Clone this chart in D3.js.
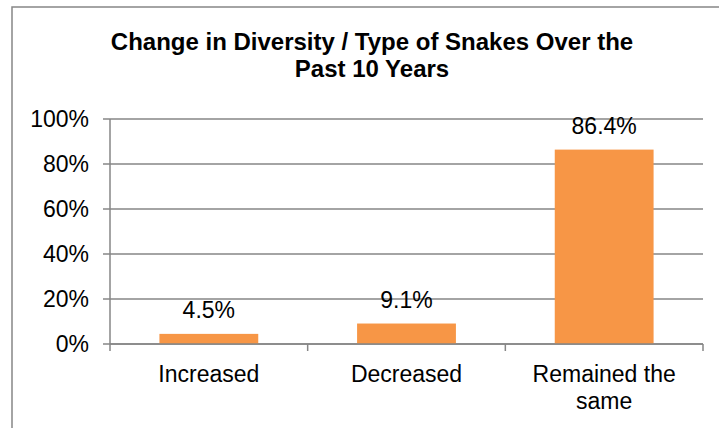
<!DOCTYPE html>
<html><head><meta charset="utf-8">
<script src="https://cdn.jsdelivr.net/npm/d3@7"></script>
<style>body{margin:0;background:#fff;}svg{display:block;font-family:Arial,"Liberation Sans",sans-serif;}</style>
</head><body>
<svg id="c" width="719" height="428"></svg>
<script>
const categories = [["Increased"], ["Decreased"], ["Remained the", "same"]];
const values = [4.5, 9.1, 86.4];
const valueLabels = ["4.5%", "9.1%", "86.4%"];
const yTicks = [0, 20, 40, 60, 80, 100];
const titleLines = ["Change in Diversity / Type of Snakes Over the", "Past 10 Years"];

const svg = d3.select("#c");
svg.append("rect").attr("x", 12).attr("y", 7).attr("width", 740).attr("height", 440)
  .attr("fill", "#fff").attr("stroke", "#878787").attr("stroke-width", 1.5);

const x0 = 110, x1 = 703, yTop = 119, yBot = 344;
const x = d3.scaleBand().domain(d3.range(categories.length)).range([x0, x1]).paddingInner(0.5).paddingOuter(0.25);
const y = d3.scaleLinear().domain([0, 100]).range([yBot, yTop]);
const grey = "#868686";
const fs = 23;

const gy = svg.append("g").attr("transform", `translate(${x0 - 7},0)`);
gy.call(d3.axisLeft(y).tickValues(yTicks).tickFormat(d => d + "%").tickSize(0).tickPadding(14));
gy.select(".domain").remove();
gy.selectAll("text").attr("font-size", fs).attr("fill", "#000").attr("font-family", "Arial, 'Liberation Sans', sans-serif");
svg.append("g").selectAll("line").data(yTicks).join("line")
  .attr("x1", x0 - 7).attr("x2", x1).attr("y1", d => y(d)).attr("y2", d => y(d))
  .attr("stroke", grey).attr("stroke-width", 1.5);
svg.append("line").attr("x1", x0).attr("x2", x0).attr("y1", yTop).attr("y2", yBot)
  .attr("stroke", grey).attr("stroke-width", 1.5);

svg.append("g").selectAll("rect").data(values).join("rect")
  .attr("x", (d, i) => x(i)).attr("width", x.bandwidth())
  .attr("y", d => y(d)).attr("height", d => yBot - y(d)).attr("fill", "#F79646");

const step = (x1 - x0) / categories.length;
svg.append("g").selectAll("line").data(d3.range(categories.length + 1)).join("line")
  .attr("x1", i => x0 + i * step).attr("x2", i => x0 + i * step).attr("y1", yBot).attr("y2", yBot + 7)
  .attr("stroke", grey).attr("stroke-width", 1.5);
svg.append("line").attr("x1", x0).attr("x2", x1).attr("y1", yBot).attr("y2", yBot)
  .attr("stroke", grey).attr("stroke-width", 1.5);

svg.append("g").selectAll("text").data(values).join("text")
  .attr("x", (d, i) => x(i) + x.bandwidth() / 2).attr("y", d => y(d) - 16)
  .attr("text-anchor", "middle").attr("font-size", fs).text((d, i) => valueLabels[i]);

const cl = svg.append("g").selectAll("text").data(categories).join("text")
  .attr("text-anchor", "middle").attr("font-size", fs)
  .attr("transform", (d, i) => `translate(${x(i) + x.bandwidth() / 2},${yBot + 38})`);
cl.selectAll("tspan").data(d => d).join("tspan").attr("x", 0).attr("dy", (d, j) => j ? 27 : 0).text(d => d);

svg.append("text").attr("text-anchor", "middle").attr("font-weight", "bold").attr("font-size", 24)
  .selectAll("tspan").data(titleLines).join("tspan")
  .attr("x", 372).attr("y", (d, i) => 50 + i * 27).text(d => d);
</script>
</body></html>
